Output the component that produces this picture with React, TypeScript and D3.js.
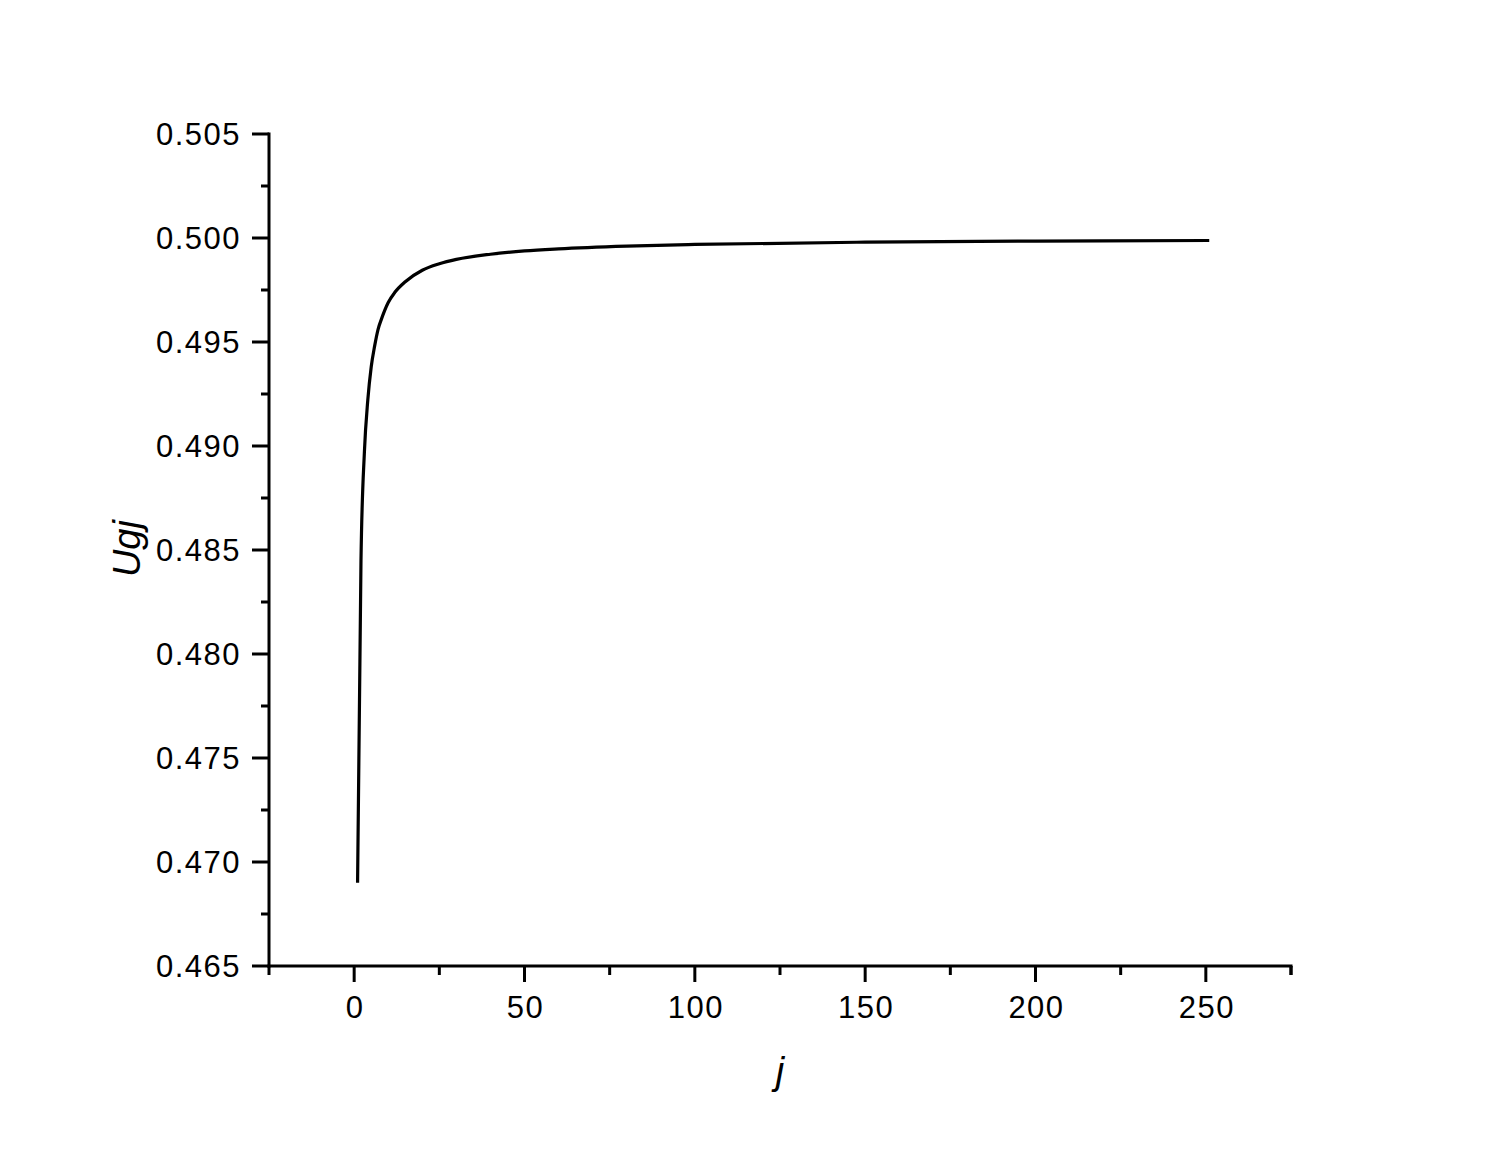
import React, { useEffect, useRef } from 'react';
import * as d3 from 'd3';

const width = 1500;
const height = 1158;
const margin = { top: 134, right: 209, bottom: 192, left: 269 };

// values
const jValues = [1, 2, 3, 4, 5, 6, 7, 8, 10, 12, 15, 20, 25, 30, 40, 50, 60, 80, 100, 150, 200, 251];
const ugjValues = [
	0.469, 0.4845, 0.4897, 0.4922, 0.4938, 0.4948, 0.4956, 0.4961, 0.4969, 0.4974, 0.4979,
	0.49845, 0.49876, 0.49897, 0.49922, 0.49938, 0.49948, 0.49961, 0.49969, 0.4998, 0.49985, 0.49988
];

const xTicks = [0, 50, 100, 150, 200, 250];
const yTicks = [0.465, 0.47, 0.475, 0.48, 0.485, 0.49, 0.495, 0.5, 0.505];

const font = 'Arial, "Liberation Sans", sans-serif';

const App = () => {
	const ref = useRef<SVGSVGElement>(null);

	useEffect(() => {
		const svg = d3.select(ref.current);
		svg.selectAll('*').remove();

		const x = d3
			.scaleLinear()
			.domain([-25, 275])
			.range([margin.left, width - margin.right]);
		const y = d3
			.scaleLinear()
			.domain([0.465, 0.505])
			.range([height - margin.bottom, margin.top]);

		const xMinor = d3.range(-25, 276, 50);
		const yMinor = d3.range(0, 8).map(i => 0.4675 + i * 0.005);

		const g = svg.append('g');

		// minor ticks
		g.selectAll('.xm')
			.data(xMinor)
			.enter()
			.append('line')
			.attr('x1', d => x(d))
			.attr('x2', d => x(d))
			.attr('y1', y(0.465))
			.attr('y2', y(0.465) + 9)
			.attr('stroke', '#000')
			.attr('stroke-width', 3);
		g.selectAll('.ym')
			.data(yMinor)
			.enter()
			.append('line')
			.attr('x1', x(-25) - 8)
			.attr('x2', x(-25))
			.attr('y1', d => y(d))
			.attr('y2', d => y(d))
			.attr('stroke', '#000')
			.attr('stroke-width', 3);

		// major ticks + labels
		g.selectAll('.xt')
			.data(xTicks)
			.enter()
			.append('line')
			.attr('x1', d => x(d))
			.attr('x2', d => x(d))
			.attr('y1', y(0.465))
			.attr('y2', y(0.465) + 16)
			.attr('stroke', '#000')
			.attr('stroke-width', 3);
		g.selectAll('.xl')
			.data(xTicks)
			.enter()
			.append('text')
			.attr('x', d => x(d) + 1)
			.attr('y', y(0.465) + 52)
			.attr('text-anchor', 'middle')
			.style('font-family', font)
			.style('font-size', '31px')
			.style('letter-spacing', '1.5px')
			.text(d => String(d));

		g.selectAll('.yt')
			.data(yTicks)
			.enter()
			.append('line')
			.attr('x1', x(-25) - 17)
			.attr('x2', x(-25))
			.attr('y1', d => y(d))
			.attr('y2', d => y(d))
			.attr('stroke', '#000')
			.attr('stroke-width', 3);
		g.selectAll('.yl')
			.data(yTicks)
			.enter()
			.append('text')
			.attr('x', x(-25) - 28)
			.attr('y', d => y(d) + 11)
			.attr('text-anchor', 'end')
			.style('font-family', font)
			.style('font-size', '31px')
			.style('letter-spacing', '1.5px')
			.text(d => d3.format('.3f')(d));

		// axis lines
		g.append('line')
			.attr('x1', x(-25))
			.attr('x2', x(-25))
			.attr('y1', y(0.505) - 1.5)
			.attr('y2', y(0.465) + 1.5)
			.attr('stroke', '#000')
			.attr('stroke-width', 3);
		g.append('line')
			.attr('x1', x(-25) - 1.5)
			.attr('x2', x(275) + 1.5)
			.attr('y1', y(0.465))
			.attr('y2', y(0.465))
			.attr('stroke', '#000')
			.attr('stroke-width', 3);
		g.append('line')
			.attr('x1', x(275))
			.attr('x2', x(275))
			.attr('y1', y(0.465))
			.attr('y2', y(0.465) + 9)
			.attr('stroke', '#000')
			.attr('stroke-width', 3);

		// curve
		const pts = jValues.map((j, i) => [j, ugjValues[i]] as [number, number]);
		const line = d3
			.line<[number, number]>()
			.x(d => x(d[0]))
			.y(d => y(d[1]))
			.curve(d3.curveMonotoneX);
		g.append('path')
			.datum(pts)
			.attr('d', line)
			.attr('fill', 'none')
			.attr('stroke', '#000')
			.attr('stroke-width', 3.2);

		// axis titles
		g.append('text')
			.attr('x', x(125))
			.attr('y', 1084)
			.attr('text-anchor', 'middle')
			.style('font-family', font)
			.style('font-style', 'italic')
			.style('font-size', '38px')
			.text('j');
		g.append('text')
			.attr('transform', `translate(140, ${y(0.4855) + 9}) rotate(-90)`)
			.attr('text-anchor', 'middle')
			.style('font-family', font)
			.style('font-style', 'italic')
			.style('font-size', '38px')
			.text('Ugj');
	}, []);

	return (
		<svg
			ref={ref}
			width={width}
			height={height}
			style={{ position: 'absolute', left: 0, top: 0, background: '#fff' }}
		/>
	);
};

export default App;
